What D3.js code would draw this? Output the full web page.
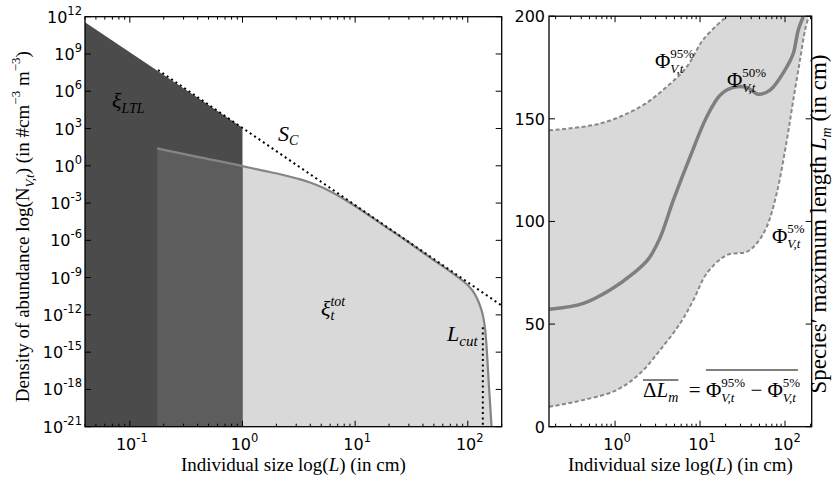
<!DOCTYPE html>
<html><head><meta charset="utf-8">
<script src="https://cdnjs.cloudflare.com/ajax/libs/d3/7.8.5/d3.min.js"></script>
<style>body{margin:0;background:#fff}svg{display:block}text{white-space:pre}</style>
</head><body><svg id="c" width="833" height="479"></svg>
<script>
// ---------------- data (left panel) ----------------
const leftSizeDomain = [0.04, 200];
const abundanceDomain = [1e-21, 1e12];
const abundanceTickExps = [12, 9, 6, 3, 0, -3, -6, -9, -12, -15, -18, -21];
const sizeTickExps = [-1, 0, 1, 2];
const ltlL = [0.04, 1];
const ltlN = [3.5e11, 1.15e3];
const scL = [0.178, 200];
const scN = [5.1e7, 5.6e-12];
const totL = [0.175, 0.42, 1.0, 1.52, 2.16, 3.05, 3.98, 5.2, 7.8, 11.8, 17.7, 26.7, 46.3, 77.3, 91.0, 102.8, 114.0, 123.7, 131.5, 137.8, 142.8, 146.6, 150.3, 153.9, 158.1, 162.5];
const totN = [25, 4.8, 0.95, 0.41, 0.21, 0.094, 0.045, 0.0168, 2.3e-3, 2.1e-4, 1.7e-5, 1.4e-6, 4.1e-8, 1.6e-9, 5.2e-10, 1.9e-10, 5.7e-11, 1.3e-11, 2.9e-12, 5.5e-13, 5.9e-14, 3.7e-15, 9.1e-17, 2.2e-18, 5.5e-20, 1e-21];
const lCutL = 136;
const lCutTopN = 1e-13;

// ---------------- data (right panel) ----------------
const rightSizeDomain = [0.167, 206];
const lengthDomain = [0, 200];
const lengthTicks = [0, 50, 100, 150, 200];
const q95L = [0.168, 0.667, 1.97, 4.06, 6.97, 10.9, 20.6];
const q95V = [144.4, 147.7, 155.8, 165.6, 175.3, 188.6, 200];
const q50L = [0.169, 0.424, 0.873, 1.64, 2.45, 3.38, 4.85, 7.63, 12.0, 17.2, 24.6, 35.4, 48.5, 66.6, 105, 125, 143, 164];
const q50V = [57.2, 60.1, 66.6, 74.7, 81.5, 92.0, 110.4, 131.5, 151.0, 161.5, 165.3, 165.3, 162, 164, 175.3, 181.8, 193.2, 199.7];
const q05L = [0.168, 0.424, 1.05, 1.97, 3.38, 5.82, 8.35, 12.0, 20.6, 35.4, 46.4, 60.9, 79.8, 105, 125, 150, 172, 190];
const q05V = [9.7, 13.0, 17.9, 26.0, 37.3, 50.3, 61.7, 74.7, 83.6, 85.2, 89.3, 97.4, 113.7, 139.6, 159.1, 178.6, 193.2, 200];

// ---------------- setup ----------------
const serif = "'Liberation Serif','Times New Roman',serif";
const sans = "'DejaVu Sans',sans-serif";
const svg = d3.select('#c');
const zip = (a, b) => a.map((v, i) => [v, b[i]]);

const L = {x0: 85, x1: 501.7, y0: 16.7, y1: 426.7};
const R = {x0: 549, x1: 811.7, y0: 16.2, y1: 426.7};

const xL = d3.scaleLog().domain(leftSizeDomain).range([L.x0, L.x1]);
const yL = d3.scaleLog().domain(abundanceDomain).range([L.y1, L.y0]);
const xR = d3.scaleLog().domain(rightSizeDomain).range([R.x0, R.x1]);
const yR = d3.scaleLinear().domain(lengthDomain).range([R.y1, R.y0]);

const defs = svg.append('defs');
defs.append('clipPath').attr('id', 'clipL').append('rect')
  .attr('x', L.x0).attr('y', L.y0).attr('width', L.x1 - L.x0).attr('height', L.y1 - L.y0);
defs.append('clipPath').attr('id', 'clipLo').append('rect')
  .attr('x', L.x0).attr('y', L.y0).attr('width', xL(ltlL[1]) - L.x0).attr('height', L.y1 - L.y0);
defs.append('clipPath').attr('id', 'clipR').append('rect')
  .attr('x', R.x0).attr('y', R.y0).attr('width', R.x1 - R.x0).attr('height', R.y1 - R.y0);

// math row helper
function mrow(parent, pieces, opt) {
  const g = parent.append('g');
  let cx = 0, hold = 0;
  const pos = [];
  pieces.forEach(p => {
    const size = p.s || opt.size;
    const el = g.append('text')
      .attr('x', cx).attr('y', p.dy || 0)
      .attr('font-family', p.f || opt.font || serif)
      .attr('font-size', size)
      .attr('font-style', p.it ? 'italic' : 'normal')
      .attr('fill', opt.fill || '#000')
      .attr('xml:space', 'preserve')
      .text(p.t);
    const w = el.node().getComputedTextLength();
    pos.push([cx, cx + w]);
    if (p.hold) { hold = w; }
    else { cx += Math.max(w, hold); hold = 0; }
  });
  return {g, width: cx, pos};
}
function place(r, x, y, rot, anchor, sx) {
  r.g.attr('transform', `translate(${x},${y}) rotate(${rot}) scale(${sx || 1},1) translate(${-r.width * anchor},0)`);
}

// ---------------- left panel ----------------
const gl = svg.append('g');
const bottomL = yL(abundanceDomain[0]);
const tot = zip(totL, totN);
const areaTot = d3.area().x(d => xL(d[0])).y0(bottomL).y1(d => yL(d[1])).curve(d3.curveMonotoneX);
const lineTot = d3.line().x(d => xL(d[0])).y(d => yL(d[1])).curve(d3.curveMonotoneX);

gl.append('path').attr('d', areaTot(tot)).attr('fill', '#d9d9d9').attr('clip-path', 'url(#clipL)');
gl.append('path').attr('d', d3.area().x(d => xL(d[0])).y0(bottomL).y1(d => yL(d[1]))(zip(ltlL, ltlN)))
  .attr('fill', '#4b4b4b').attr('clip-path', 'url(#clipL)');
gl.append('path').attr('d', areaTot(tot)).attr('fill', '#5d5d5d').attr('clip-path', 'url(#clipLo)');
gl.append('path').attr('d', lineTot(tot)).attr('fill', 'none').attr('stroke', '#858585').attr('stroke-width', 2.2).attr('clip-path', 'url(#clipL)');
gl.append('path').attr('d', d3.line().x(d => xL(d[0])).y(d => yL(d[1]))(zip(scL, scN)))
  .attr('fill', 'none').attr('stroke', '#000').attr('stroke-width', 2).attr('stroke-dasharray', '2,3.3').attr('clip-path', 'url(#clipL)');
gl.append('line').attr('x1', xL(lCutL)).attr('x2', xL(lCutL)).attr('y1', yL(lCutTopN)).attr('y2', bottomL)
  .attr('stroke', '#000').attr('stroke-width', 2).attr('stroke-dasharray', '2,3.3');

// ticks helper
function minorLogTicks(domain) {
  const out = [];
  for (let e = Math.floor(Math.log10(domain[0])); e <= Math.ceil(Math.log10(domain[1])); e++) {
    for (let k = 1; k <= 9; k++) {
      const v = k * Math.pow(10, e);
      if (v >= domain[0] * 0.999 && v <= domain[1] * 1.001) out.push({v, major: k === 1});
    }
  }
  return out;
}
function drawFrame(g, P, xs, xTicks, yTickVals, ys) {
  const t = g.append('g').attr('stroke', '#000').attr('stroke-width', 1);
  xTicks.forEach(d => {
    const x = xs(d.v), len = d.major ? 6 : 3;
    t.append('line').attr('x1', x).attr('x2', x).attr('y1', P.y1).attr('y2', P.y1 - len);
    t.append('line').attr('x1', x).attr('x2', x).attr('y1', P.y0).attr('y2', P.y0 + len);
  });
  yTickVals.forEach(v => {
    const y = ys(v);
    t.append('line').attr('x1', P.x0).attr('x2', P.x0 + 6).attr('y1', y).attr('y2', y);
    t.append('line').attr('x1', P.x1).attr('x2', P.x1 - 6).attr('y1', y).attr('y2', y);
  });
  g.append('rect').attr('x', P.x0).attr('y', P.y0).attr('width', P.x1 - P.x0).attr('height', P.y1 - P.y0)
    .attr('fill', 'none').attr('stroke', '#000').attr('stroke-width', 1.3);
}
function powLabel(g, x, y, exp, anchor) {
  const t = g.append('text').attr('x', x).attr('y', y).attr('text-anchor', anchor)
    .attr('font-family', sans).attr('font-size', 16).attr('fill', '#000');
  t.append('tspan').text('10');
  t.append('tspan').attr('dy', -8).attr('font-size', 11.5).text(String(exp));
}

drawFrame(gl, L, xL, minorLogTicks(leftSizeDomain), abundanceTickExps.map(e => Math.pow(10, e)), yL);
abundanceTickExps.forEach(e => powLabel(gl, 82, yL(Math.pow(10, e)) + 6, e, 'end'));
sizeTickExps.forEach(e => powLabel(gl, xL(Math.pow(10, e)) + 2, L.y1 + 23, e, 'middle'));

// left labels
place(mrow(gl, [{t: 'ξ', it: true}, {t: 'LTL', it: true, s: 14, dy: 5}], {size: 22}), 112, 108, 0, 0);
place(mrow(gl, [{t: 'S', it: true}, {t: 'C', it: true, s: 14, dy: 4}], {size: 22}), 278, 141, 0, 0);
place(mrow(gl, [{t: 'ξ', it: true}, {t: 'tot', it: true, s: 14, dy: -10, hold: true}, {t: 't', it: true, s: 14, dy: 4}], {size: 22}), 321, 316, 0, 0);
place(mrow(gl, [{t: 'L', it: true}, {t: 'cut', it: true, s: 15, dy: 5}], {size: 22}), 447, 341, 0, 0);

place(mrow(gl, [{t: 'Individual size log('}, {t: 'L', it: true}, {t: ') (in cm)'}], {size: 19}), (L.x0 + L.x1) / 2, 471, 0, 0.5);
place(mrow(gl, [
  {t: 'Density of abundance log(N'}, {t: 'V,t', it: true, s: 13, dy: 5}, {t: ') (in #cm'},
  {t: '−3', s: 13, dy: -9}, {t: ' m'}, {t: '−3', s: 13, dy: -9}, {t: ')'}
], {size: 19}), 29, (L.y0 + L.y1) / 2 + 5, -90, 0.5);

// ---------------- right panel ----------------
const gr = svg.append('g');
const curveR = d3.curveCatmullRom.alpha(0.5);
const lineR = d3.line().x(d => xR(d[0])).y(d => yR(d[1])).curve(curveR);
const q95 = zip(q95L, q95V), q50 = zip(q50L, q50V), q05 = zip(q05L, q05V);
const path95 = lineR(q95);
const path05rev = lineR(q05.slice().reverse());
const bandPath = path95 + `L${R.x1},${yR(lengthDomain[1])}` + 'L' + path05rev.slice(1) + 'Z';
gr.append('path').attr('d', bandPath).attr('fill', '#d9d9d9').attr('clip-path', 'url(#clipR)');
gr.append('path').attr('d', path95).attr('fill', 'none').attr('stroke', '#888').attr('stroke-width', 2)
  .attr('stroke-dasharray', '4,2.5').attr('clip-path', 'url(#clipR)');
gr.append('path').attr('d', lineR(q05))
  .attr('fill', 'none').attr('stroke', '#888').attr('stroke-width', 2)
  .attr('stroke-dasharray', '4,2.5').attr('clip-path', 'url(#clipR)');
gr.append('path').attr('d', lineR(q50))
  .attr('fill', 'none').attr('stroke', '#7f7f7f').attr('stroke-width', 3.5).attr('clip-path', 'url(#clipR)');

drawFrame(gr, R, xR, minorLogTicks(rightSizeDomain), lengthTicks, yR);
lengthTicks.forEach(v => gr.append('text').attr('x', 545).attr('y', yR(v) + 6).attr('text-anchor', 'end')
  .attr('font-family', sans).attr('font-size', 16).text(v));
[0, 1, 2].forEach(e => powLabel(gr, xR(Math.pow(10, e)) + 2, R.y1 + 23, e, 'middle'));

const phi = (sup) => [{t: 'Φ'}, {t: sup, s: 13, dy: -10, hold: true}, {t: 'V,t', it: true, s: 13, dy: 5}];
place(mrow(gr, phi('95%'), {size: 21}), 655, 68, 0, 0);
place(mrow(gr, phi('50%'), {size: 21}), 727, 87, 0, 0);
place(mrow(gr, phi('5%'), {size: 21}), 772, 243, 0, 0);

const fr = mrow(gr, [{t: 'Δ'}, {t: 'L', it: true}, {t: 'm', it: true, s: 14, dy: 5}, {t: '  = '},
  ...phi('95%'), {t: ' − '}, ...phi('5%')], {size: 21});
fr.g.append('line').attr('x1', fr.pos[0][0]).attr('x2', fr.pos[2][1]).attr('y1', -17).attr('y2', -17)
  .attr('stroke', '#000').attr('stroke-width', 1.2);
fr.g.append('line').attr('x1', fr.pos[4][0]).attr('x2', fr.pos[fr.pos.length - 1][1] + 2).attr('y1', -27).attr('y2', -27)
  .attr('stroke', '#000').attr('stroke-width', 1.2);
place(fr, 643, 397, 0, 0);

place(mrow(gr, [{t: 'Individual size log('}, {t: 'L', it: true}, {t: ') (in cm)'}], {size: 19}), (R.x0 + R.x1) / 2, 471, 0, 0.5);
place(mrow(gr, [{t: 'Species′ maximum length '}, {t: 'L', it: true}, {t: 'm', it: true, s: 14, dy: 5}, {t: ' (in cm)'}], {size: 23}),
  826, 224, -90, 0.5);
</script></body></html>
